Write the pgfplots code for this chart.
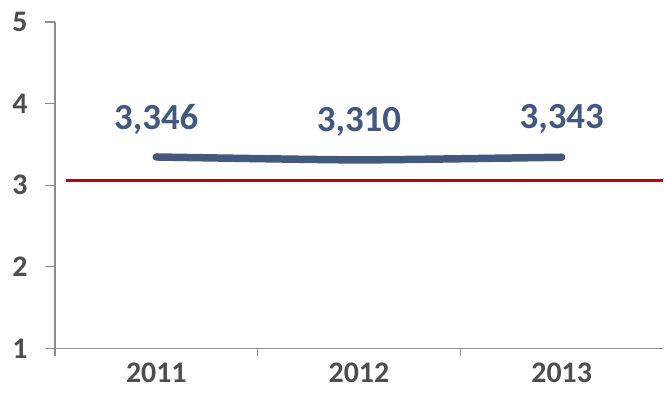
\documentclass[border=0pt]{standalone}
\usepackage{pgfplots}
\pgfplotsset{compat=1.18}
\usepackage{fontspec}
\setmainfont{Carlito}
\definecolor{serie}{HTML}{44577F}
\definecolor{ref}{HTML}{C00000}
\definecolor{achse}{HTML}{8C8C8C}
\definecolor{schrift}{HTML}{4D4D4D}
\begin{document}
\begin{tikzpicture}
\path[use as bounding box] (-55bp,-45bp) rectangle (610bp,349bp);
\begin{axis}[
    anchor=south west,
    at={(0,0)},
    scale only axis,
    width=609bp, height=327bp,
    xmin=-0.5, xmax=2.5,
    ymin=1, ymax=5,
    axis lines*=left,
    axis line style={achse, line width=1.3bp},
    xtick={0,1,2},
    xticklabels={2011,2012,2013},
    minor xtick={-0.5,0.5,1.5},
    ytick={1,2,3,4,5},
    tick align=outside,
    major x tick style={draw=none},
    every tick/.style={achse, line width=1.3bp},
    major tick length=10bp,
    minor tick length=8bp,
    tick label style={font=\fontsize{30}{31}\selectfont\bfseries, text=schrift},
    /pgf/number format/assume math mode=true,
    yticklabel style={xshift=-14bp},
    xticklabel style={yshift=-1bp},
    clip=false,
]
% Referenzlinie
\addplot[ref, line width=3.5bp] coordinates {(-0.446,3.06) (2.5,3.06)};
% Werte
\addplot[serie, line width=7.5bp, line cap=round, smooth, tension=0.3,
    point meta=explicit symbolic,
    nodes near coords,
    every node near coord/.style={anchor=center, yshift=38bp,
        font=\fontsize{37}{38}\selectfont\bfseries, text=serie}]
    coordinates {(0,3.346) [3{,}346] (1,3.310) [3{,}310] (2,3.343) [3{,}343]};
\end{axis}
\end{tikzpicture}
\end{document}
